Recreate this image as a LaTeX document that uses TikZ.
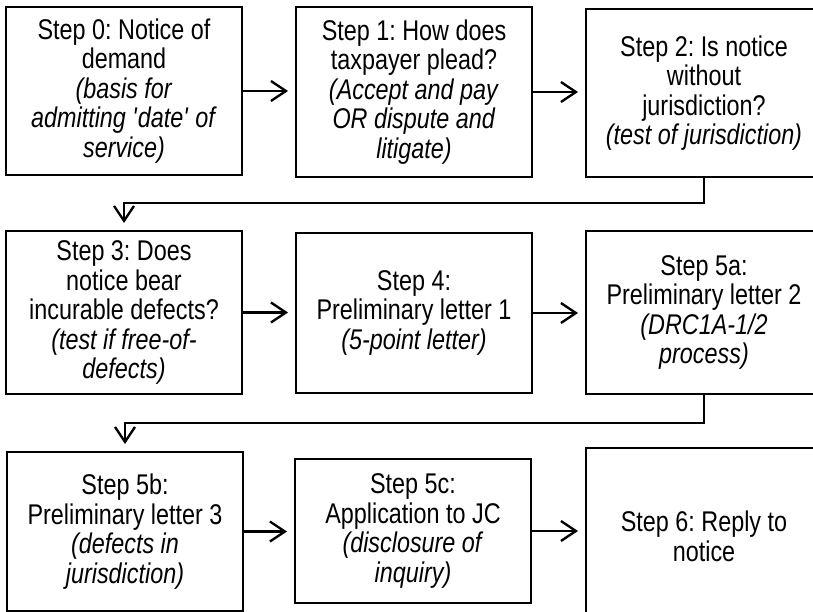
\documentclass[tikz,border=0pt]{standalone}
\usepackage{fontspec}
\setmainfont{Liberation Sans}[FakeStretch=0.82]
\usetikzlibrary{arrows.meta}
\frenchspacing

\begin{document}
\begin{tikzpicture}[x=1pt,y=-1pt,
        stepbox/.style={
          draw,line width=2.3pt,align=center,inner sep=4pt,outer sep=0pt,
          minimum width=236pt,font=\fontsize{28.5}{29.5}\selectfont
        },
        flow/.style={
          line width=2.3pt,-{Straight Barb[length=15pt,width=20pt]},shorten >=8pt
        }
      ]
      \useasboundingbox (0,0) rectangle (813,612);
      \clip (0,0) rectangle (813,612);
      % row 1
      \node [stepbox,minimum height=168pt] (s0) at (124,91) {Step 0: Notice of\\demand\\\textit{(basis for}\\\textit{admitting \textquotesingle date\textquotesingle{} of}\\\textit{service)}};
      \node [stepbox,minimum height=170pt] (s1) at (414,92) {Step 1: How does\\taxpayer plead?\\\textit{(Accept and pay}\\\textit{OR dispute and}\\\textit{litigate)}};
      \node [stepbox,minimum height=168pt] (s2) at (704,93) {Step 2: Is notice\\without\\jurisdiction?\\\textit{(test of jurisdiction)}};
      % row 2
      \node [stepbox,minimum height=163pt] (s3) at (124,312.5) {Step 3: Does\\notice bear\\incurable defects?\\\textit{(test if free-of-}\\\textit{defects)}};
      \node [stepbox,minimum height=160pt] (s4) at (414,313) {Step 4:\\Preliminary letter 1\\\textit{(5-point letter)}};
      \node [stepbox,minimum height=163pt] (s5) at (704,312.5) {Step 5a:\\Preliminary letter 2\\\textit{(DRC1A-1/2}\\\textit{process)}};
      % row 3
      \node [stepbox,minimum height=159pt] (s6) at (125,531.5) {Step 5b:\\Preliminary letter 3\\\textit{(defects in}\\\textit{jurisdiction)}};
      \node [stepbox,minimum height=144pt] (s7) at (413,531) {Step 5c:\\Application to JC\\\textit{(disclosure of}\\\textit{inquiry)}};
      \node [stepbox,minimum height=177pt] (s8) at (704,536.5) {Step 6: Reply to\\notice};
      \coordinate (t1) at (704,203);
      \coordinate (t2) at (704,423);
      \draw [flow] (s0.east) -- (s0.east -| s1.west);
      \draw [flow] (s1.east) -- (s1.east -| s2.west);
      \draw [flow] (s2.south) -- (t1) -| (s3.north);
      \draw [flow] (s3.east) -- (s3.east -| s4.west);
      \draw [flow] (s4.east) -- (s4.east -| s5.west);
      \draw [flow] (s5.south) -- (t2) -| (s6.north);
      \draw [flow] (s6.east) -- (s6.east -| s7.west);
      \draw [flow] (s7.east) -- (s7.east -| s8.west);
    \end{tikzpicture}
\end{document}
